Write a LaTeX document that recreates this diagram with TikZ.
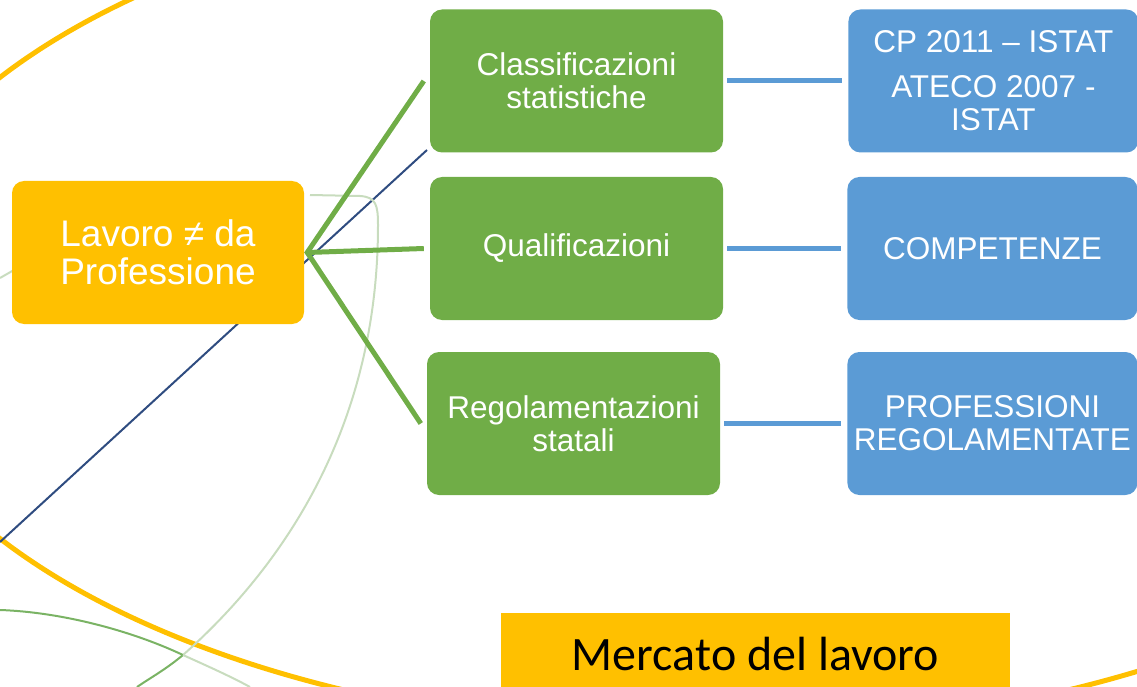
\documentclass[tikz,border=0pt]{standalone}
\usepackage{fontspec}
\setmainfont{Liberation Sans}
\newfontfamily\calibrifont{Carlito}
\usetikzlibrary{positioning}
\definecolor{boxorange}{HTML}{FFC000}
\definecolor{boxgreen}{HTML}{70AD47}
\definecolor{boxblue}{HTML}{5B9BD5}
\definecolor{navyline}{HTML}{2F4C80}
\definecolor{palegreen}{HTML}{C8DCBE}
\definecolor{midgreen}{HTML}{7AB364}
\tikzstyle{mainbox}=[rounded corners=12pt,minimum width=292pt,minimum height=143pt,align=center,text=white,inner sep=0pt]
\tikzstyle{orangebox}=[mainbox,fill=boxorange,font=\fontsize{37}{38}\selectfont]
\tikzstyle{greenbox}=[mainbox,fill=boxgreen,minimum width=293pt,font=\fontsize{31.5}{33}\selectfont]
\tikzstyle{bluebox}=[mainbox,fill=boxblue,minimum width=290pt,font=\fontsize{31.5}{33}\selectfont]
\tikzstyle{greenlink}=[draw=boxgreen,line width=5pt]
\tikzstyle{bluelink}=[draw=boxblue,line width=5pt]
\tikzstyle{ring}=[draw=boxorange,line width=5pt]

\begin{document}
\begin{tikzpicture}[x=1pt,y=-1pt]
\useasboundingbox (0,0) rectangle (1137,687);
\clip (0,0) rectangle (1137,687);
% background
\draw[ring] (706,308) ellipse [x radius=842, y radius=423];
\draw[navyline,line width=2pt] (0,542) -- (427,150);
\draw[palegreen,line width=2pt] (310,195) -- (360,196) .. controls (376,197) and (378,205) .. (378,225)
    .. controls (378,420) and (290,560) .. (183,655);
\draw[midgreen,line width=2pt] (183,655) .. controls (165,670) and (150,678) .. (137,687);
\draw[midgreen,line width=2pt] (0,610) .. controls (60,612) and (130,630) .. (183,655);
\draw[palegreen,line width=2pt] (183,655) .. controls (205,665) and (230,676) .. (250,687);
\draw[palegreen,line width=2pt] (0,278) -- (14,270);

% boxes
\node (lavoro) [orangebox] at (158,252.5) {Lavoro ≠ da\\Professione};
\node (classif) [greenbox] at (576.5,81) {Classificazioni\\statistiche};
\node (qualif) [greenbox] at (576.5,248.5) {Qualificazioni};
\node (regol) [greenbox] at (573.5,423.5) {Regolamentazioni\\statali};
\node (istat) [bluebox,right=125pt of classif] {CP 2011 – ISTAT\\[12pt]ATECO 2007 -\\ISTAT};
\node (compet) [bluebox,right=124pt of qualif] {COMPETENZE};
\node (profreg) [bluebox,right=127pt of regol] {PROFESSIONI\\REGOLAMENTATE};
\node (mercato) [fill=boxorange,minimum width=509pt,minimum height=82pt,inner sep=0pt,
    font=\calibrifont\fontsize{48}{52}\selectfont] at (755.5,654) {Mercato del lavoro};

% links
\draw[greenlink] ([xshift=-6pt]classif.west) -- ([xshift=3pt]lavoro.east) -- ([xshift=-6pt]regol.west);
\draw[greenlink] ([xshift=3pt]lavoro.east) -- ([xshift=-6pt]qualif.west);
\draw[bluelink] ([xshift=4pt]classif.east) -- ([xshift=-6pt]istat.west);
\draw[bluelink] ([xshift=4pt]qualif.east) -- ([xshift=-6pt]compet.west);
\draw[bluelink] ([xshift=4pt]regol.east) -- ([xshift=-6pt]profreg.west);
\end{tikzpicture}
\end{document}
